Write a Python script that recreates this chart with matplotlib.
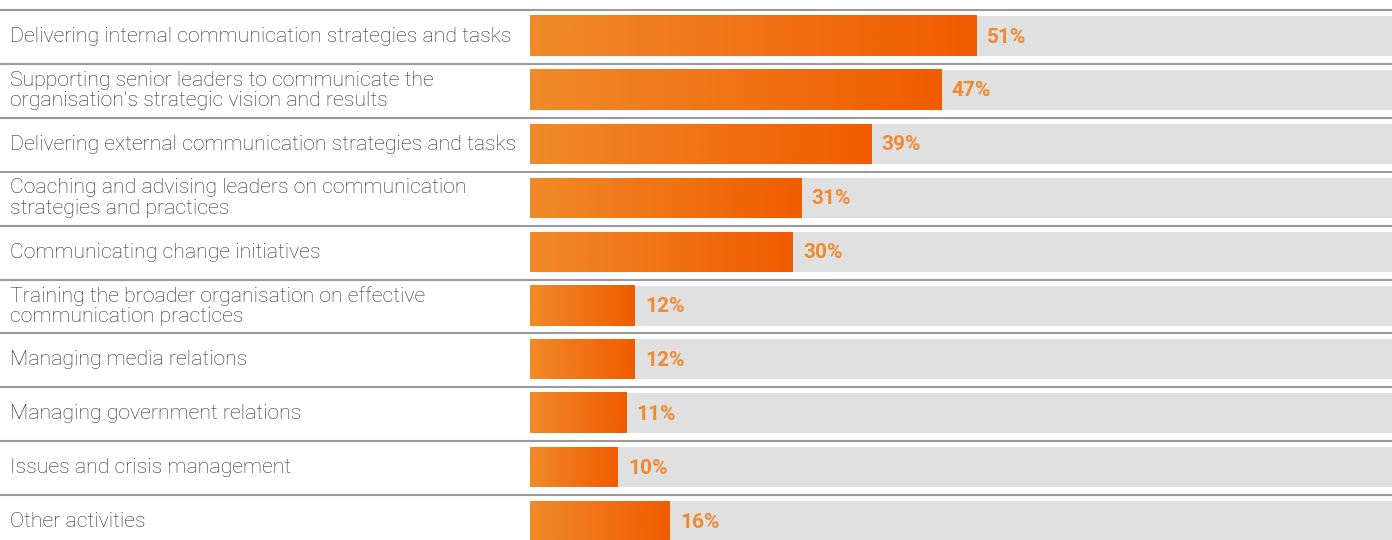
import matplotlib.pyplot as plt
import numpy as np
from matplotlib.colors import LinearSegmentedColormap
from matplotlib.transforms import blended_transform_factory

plt.rcParams['font.family'] = ['Roboto', 'DejaVu Sans']

categories = [
    "Delivering internal communication strategies and tasks",
    "Supporting senior leaders to communicate the\norganisation's strategic vision and results",
    "Delivering external communication strategies and tasks",
    "Coaching and advising leaders on communication\nstrategies and practices",
    "Communicating change initiatives",
    "Training the broader organisation on effective\ncommunication practices",
    "Managing media relations",
    "Managing government relations",
    "Issues and crisis management",
    "Other activities",
]
values = [51, 47, 39, 31, 30, 12, 12, 11, 10, 16]

W, H = 1392, 540
fig = plt.figure(figsize=(W / 100, H / 100), dpi=100)
x0 = 530 / W
ax = fig.add_axes([x0, 0, 1 - x0, 1])

pitch = 53.9
xmax = (W - 530) / 8.75
ymin, ymax = (H - 36) / pitch, -36 / pitch
ax.axis('off')

bar_h = 40 / pitch
grad = LinearSegmentedColormap.from_list('g', ['#f08a2a', '#f05c00'])
ramp = np.linspace(0, 1, 256).reshape(1, -1)
ypos = np.arange(len(values))

# grey full-length background
ax.barh(ypos, [100] * len(values), height=bar_h, color='#e0e0e0', zorder=1)

for y, v in zip(ypos, values):
    ax.imshow(ramp, cmap=grad, aspect='auto', zorder=2,
              extent=[0, v, y + bar_h / 2, y - bar_h / 2])
    ax.text(v + 1.2, y + 0.02, f"{v}%", ha='left', va='center',
            fontsize=15, fontweight='bold', color='#f08a30', zorder=3)

ax.set_xlim(0, xmax)
ax.set_ylim(ymin, ymax)

tr = blended_transform_factory(fig.transFigure, ax.transData)
for y, lab in zip(ypos, categories):
    ax.text(10 / W, y + 0.01, lab, transform=tr, ha='left', va='center',
            fontsize=15.3, fontweight='light', color='#2b2b2b',
            linespacing=1.12)
    ax.plot([0, 1], [y - 26 / pitch] * 2, transform=tr, color='#9a9a9a',
            lw=1.5, clip_on=False, zorder=0)

fig.savefig('out.png', dpi=100)
